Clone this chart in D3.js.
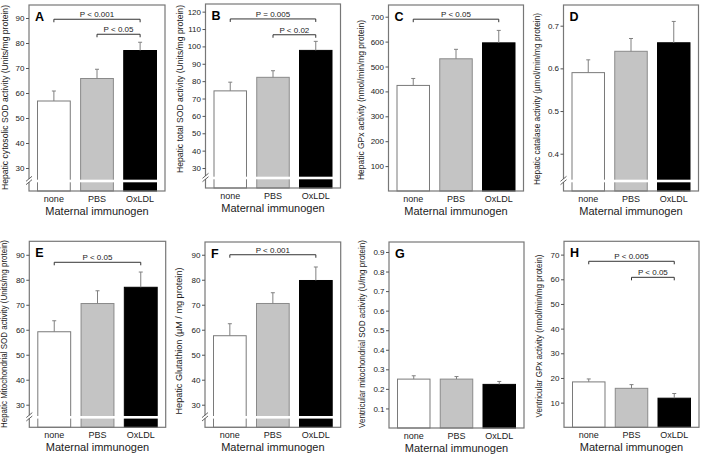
<!DOCTYPE html>
<html><head><meta charset="utf-8">
<script src="https://cdn.jsdelivr.net/npm/d3@7"></script>
<style>body{margin:0;background:#fff}svg{display:block}</style>
</head><body>
<svg id="chart" width="703" height="457"></svg>
<script>
// ---------- data ----------
const categories = ["none", "PBS", "OxLDL"];
const xTitle = "Maternal immunogen";

const valuesA = [56.8, 65.8, 77.0];   const errorsA = [4.0, 3.7, 3.3];
const valuesB = [74.4, 82.2, 97.7];   const errorsB = [5.0, 3.8, 5.2];
const valuesC = [424, 531, 595];      const errorsC = [28, 38, 50];
const valuesD = [0.59, 0.64, 0.66];   const errorsD = [0.03, 0.03, 0.05];
const valuesE = [59.2, 70.5, 77.0];   const errorsE = [4.4, 5.1, 6.1];
const valuesF = [57.6, 70.5, 79.7];   const errorsF = [4.8, 4.3, 5.4];
const valuesG = [0.25, 0.25, 0.223];  const errorsG = [0.017, 0.013, 0.015];
const valuesH = [18.4, 15.8, 11.8];   const errorsH = [1.2, 1.5, 1.9];

const ticksA = [30, 40, 50, 60, 70, 80, 90];
const ticksB = [30, 40, 50, 60, 70, 80, 90, 100, 110, 120];
const ticksC = [100, 200, 300, 400, 500, 600, 700];
const ticksD = [0.4, 0.5, 0.6, 0.7];
const ticksE = [30, 40, 50, 60, 70, 80, 90];
const ticksF = [30, 40, 50, 60, 70, 80, 90];
const ticksG = [0.1, 0.2, 0.3, 0.4, 0.5, 0.6, 0.7, 0.8, 0.9];
const ticksH = [10, 20, 30, 40, 50, 60, 70];

const yLabels = [
  "Hepatic cytosolic SOD activity (Units/mg protein)",
  "Hepatic total SOD activity (Units/mg protein)",
  "Hepatic GPx activity (nmol/min/mg protein)",
  "Hepatic catalase activity (µmol/min/mg protein)",
  "Hepatic Mitochondrial SOD activity (Units/mg protein)",
  "Hepatic Glutathion (µM / mg protein)",
  "Ventricular mitochondrial SOD activity (U/mg protein)",
  "Ventricular GPx activity (nmol/min/mg protein)"
];
const panelLetters = ["A", "B", "C", "D", "E", "F", "G", "H"];

const bracketsA = [{from: 0, to: 2, label: "P < 0.001", at: 89.5}, {from: 1, to: 2, label: "P < 0.05", at: 83.5}];
const bracketsB = [{from: 0, to: 2, label: "P = 0.005", at: 115.8}, {from: 1, to: 2, label: "P < 0.02", at: 106.7}];
const bracketsC = [{from: 0, to: 2, label: "P < 0.05", at: 690}];
const bracketsD = [];
const bracketsE = [{from: 0, to: 2, label: "P < 0.05", at: 87}];
const bracketsF = [{from: 0, to: 2, label: "P < 0.001", at: 90}];
const bracketsG = [];
const bracketsH = [{from: 0, to: 2, label: "P < 0.005", at: 67.3}, {from: 1, to: 2, label: "P < 0.05", at: 60.8}];

// ---------- layout ----------
const panels = [
  {values: valuesA, errors: errorsA, ticks: ticksA, brackets: bracketsA, domain: [20.8, 95.2], brk: true,  fmt: d3.format("d"),   frame: {x: 29,    y: 5,     w: 136,   h: 186},   labelLen: 185, labelMid: 97.5, labelOff: 20.7},
  {values: valuesB, errors: errorsB, ticks: ticksB, brackets: bracketsB, domain: [18.5, 124.4], brk: true, fmt: d3.format("d"),   frame: {x: 205.5, y: 4,     w: 135,   h: 184},   labelLen: 168, labelMid: 89,   labelOff: 22.2},
  {values: valuesC, errors: errorsC, ticks: ticksC, brackets: bracketsC, domain: [0, 747], brk: false,     fmt: d3.format("d"),   frame: {x: 388.5, y: 5,     w: 135,   h: 186},   labelLen: 160, labelMid: 100,  labelOff: 25},
  {values: valuesD, errors: errorsD, ticks: ticksD, brackets: bracketsD, domain: [0.3126, 0.7485], brk: true, fmt: d3.format(".1f"), frame: {x: 563.5, y: 5,  w: 135,   h: 186},   labelLen: 172, labelMid: 99,   labelOff: 23.5},
  {values: valuesE, errors: errorsE, ticks: ticksE, brackets: bracketsE, domain: [20.96, 95.4], brk: true, fmt: d3.format("d"),   frame: {x: 29.3,  y: 241.3, w: 136.4, h: 186},   labelLen: 188, labelMid: 334,  labelOff: 22},
  {values: valuesF, errors: errorsF, ticks: ticksF, brackets: bracketsF, domain: [20.96, 95.1], brk: true, fmt: d3.format("d"),   frame: {x: 205,   y: 242,   w: 135.7, h: 185.3}, labelLen: 147, labelMid: 341,  labelOff: 22.7},
  {values: valuesG, errors: errorsG, ticks: ticksG, brackets: bracketsG, domain: [0, 0.951], brk: false,   fmt: d3.format(".1f"), frame: {x: 389,   y: 242,   w: 135,   h: 186},   labelLen: 188, labelMid: 334,  labelOff: 24},
  {values: valuesH, errors: errorsH, ticks: ticksH, brackets: bracketsH, domain: [0, 75.4], brk: false,    fmt: d3.format("d"),   frame: {x: 564,   y: 241.3, w: 135,   h: 186},   labelLen: 163, labelMid: 336,  labelOff: 22.3}
];

const barFill = ["#ffffff", "#c4c4c4", "#000000"];
const barStroke = ["#7a7a7a", "#8a8a8a", "#000000"];
const FONT = "'Liberation Sans', Arial, Helvetica, sans-serif";
const TXT = "#222";

const svg = d3.select("#chart");

panels.forEach((p, i) => {
  const f = p.frame;
  const g = svg.append("g");
  const x = d3.scaleBand().domain(categories)
    .range([f.x + 8.5, f.x + f.w - 8.5]).paddingInner(0.24).paddingOuter(0);
  const y = d3.scaleLinear().domain(p.domain).range([f.y + f.h, f.y]);
  const bottom = f.y + f.h;

  // bars
  g.selectAll("rect.bar").data(p.values).join("rect")
    .attr("class", "bar")
    .attr("x", (d, k) => x(categories[k]))
    .attr("width", x.bandwidth())
    .attr("y", d => y(d))
    .attr("height", d => bottom - y(d))
    .attr("fill", (d, k) => barFill[k])
    .attr("stroke", (d, k) => barStroke[k])
    .attr("stroke-width", 1);

  // error bars (upper only)
  p.values.forEach((v, k) => {
    const cx = x(categories[k]) + x.bandwidth() / 2;
    const top = y(v + p.errors[k]);
    g.append("line").attr("x1", cx).attr("x2", cx).attr("y1", y(v)).attr("y2", top)
      .attr("stroke", "#808080").attr("stroke-width", 1);
    g.append("line").attr("x1", cx - 2).attr("x2", cx + 2).attr("y1", top).attr("y2", top)
      .attr("stroke", "#808080").attr("stroke-width", 1);
  });

  // axis break
  const by = bottom - 10;
  if (p.brk) {
    g.append("rect").attr("x", f.x + 1).attr("y", by - 1.3).attr("width", f.w - 2).attr("height", 2.6)
      .attr("fill", "#fff");
  }

  // frame
  g.append("rect").attr("x", f.x).attr("y", f.y).attr("width", f.w).attr("height", f.h)
    .attr("fill", "none").attr("stroke", "#777").attr("stroke-width", 1.2);

  if (p.brk) {
    g.append("rect").attr("x", f.x - 2).attr("y", by - 2).attr("width", 4).attr("height", 3)
      .attr("fill", "#fff");
    [-2.2, 1.2].forEach(o => {
      g.append("line").attr("x1", f.x - 3).attr("y1", by + o + 2.5).attr("x2", f.x + 3).attr("y2", by + o - 2.5)
        .attr("stroke", "#555").attr("stroke-width", 0.9);
    });
  }

  // y axis
  const ax = g.append("g").attr("transform", `translate(${f.x},0)`)
    .call(d3.axisLeft(y).tickValues(p.ticks).tickFormat(p.fmt).tickSize(3).tickPadding(1.5));
  ax.select(".domain").remove();
  ax.selectAll(".tick line").attr("stroke", "#555");
  ax.selectAll(".tick text").attr("font-family", FONT).attr("font-size", 8).attr("fill", TXT);

  // y label
  g.append("text")
    .attr("transform", `translate(${f.x - p.labelOff},${p.labelMid}) rotate(-90)`)
    .attr("text-anchor", "middle")
    .attr("font-family", FONT).attr("font-size", 8.5).attr("fill", TXT)
    .attr("textLength", p.labelLen).attr("lengthAdjust", "spacingAndGlyphs")
    .text(yLabels[i]);

  // category labels
  categories.forEach(c => {
    g.append("text").attr("x", x(c) + x.bandwidth() / 2).attr("y", bottom + 10.5)
      .attr("text-anchor", "middle").attr("font-family", FONT).attr("font-size", 9).attr("fill", TXT)
      .text(c);
  });
  g.append("text").attr("x", f.x + f.w / 2).attr("y", bottom + 23.5)
    .attr("text-anchor", "middle").attr("font-family", FONT).attr("font-size", 11).attr("fill", TXT)
    .text(xTitle);

  // panel letter
  g.append("text").attr("x", f.x + 6).attr("y", f.y + 16)
    .attr("font-family", FONT).attr("font-size", 12.5).attr("font-weight", "bold").attr("fill", "#000")
    .text(panelLetters[i]);

  // significance brackets
  p.brackets.forEach(b => {
    const x1 = x(categories[b.from]) + x.bandwidth() / 2;
    const x2 = x(categories[b.to]) + x.bandwidth() / 2;
    const yy = y(b.at);
    g.append("path").attr("d", `M${x1},${yy + 3}V${yy}H${x2}V${yy + 3}`)
      .attr("fill", "none").attr("stroke", "#333").attr("stroke-width", 1);
    g.append("text").attr("x", (x1 + x2) / 2).attr("y", yy - 2.2)
      .attr("text-anchor", "middle").attr("font-family", FONT).attr("font-size", 8).attr("fill", TXT)
      .text(b.label);
  });
});
</script>
</body></html>
